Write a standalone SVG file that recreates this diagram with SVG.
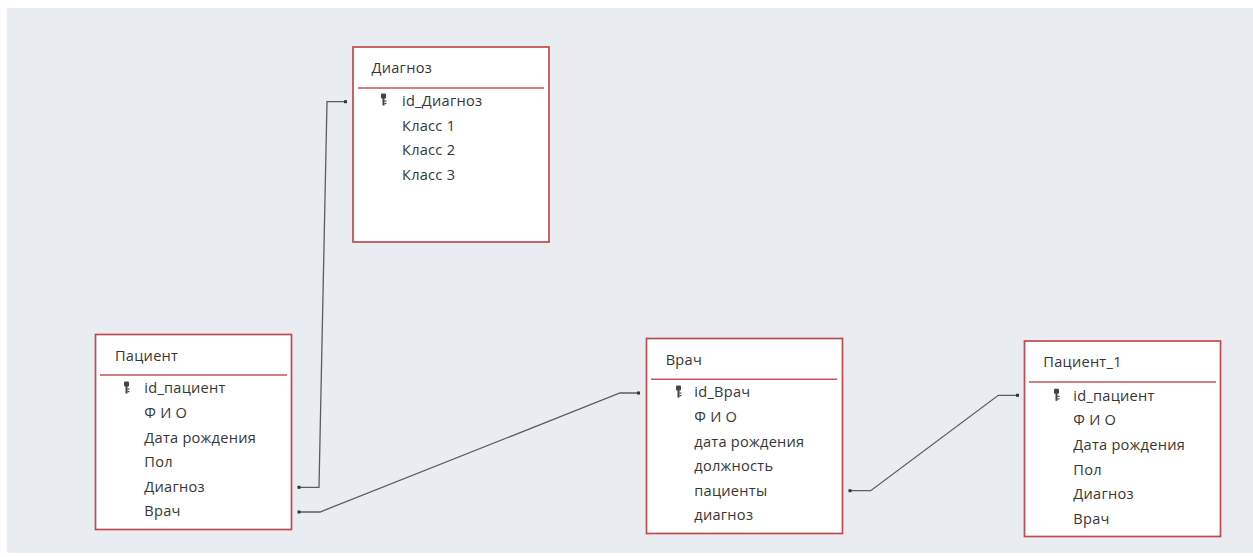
<svg xmlns="http://www.w3.org/2000/svg" width="1253" height="557" viewBox="0 0 1253 557">
<defs>
<style>
.bg{fill:#e9edf1}
.box{fill:#ffffff;stroke:#bf4a50;stroke-width:1.7}
.hdr{stroke:#c0565b;stroke-width:1.5}
.t{font-family:"Open Sans","Noto Sans","Liberation Sans",sans-serif;font-size:14.6px;letter-spacing:0.25px;fill:#363636}
.f{font-family:"Open Sans","Noto Sans","Liberation Sans",sans-serif;font-size:14.6px;letter-spacing:0.25px;fill:#363636}
.c{fill:none;stroke:#5c5c5c;stroke-width:1.3}
.d{fill:#333333}
.k{fill:#444444}
</style>
<g id="key">
<rect x="0" y="0" width="5" height="5" rx="1"/>
<rect x="1.5" y="4" width="2" height="8"/>
<rect x="3.5" y="7" width="2" height="1.2"/>
<rect x="3.5" y="9.5" width="2" height="1.2"/>
</g>
</defs>
<rect class="bg" x="7" y="8" width="1246" height="545"/>
<g id="connectors">
<polyline class="c" points="299,487.3 319,487.3 327,101.7 345,101.7"/>
<rect class="d" x="297.5" y="485.8" width="3" height="3"/>
<rect class="d" x="344" y="100.2" width="3" height="3"/>
<polyline class="c" points="299,512 320,512 620,393 638,393"/>
<rect class="d" x="297.5" y="510.5" width="3" height="3"/>
<rect class="d" x="637" y="391.5" width="3" height="3"/>
<polyline class="c" points="850,490.7 870.7,490.7 998.3,395.3 1017,395.3"/>
<rect class="d" x="848.5" y="489.2" width="3" height="3"/>
<rect class="d" x="1016" y="393.8" width="3" height="3"/>
</g>
<g id="node-diagnoz">
<rect class="box" x="353" y="47" width="196" height="195"/>
<line class="hdr" x1="358" y1="88" x2="544" y2="88"/>
<text class="t" x="371.5" y="73">Диагноз</text>
<use href="#key" class="k" x="381" y="93.5"/>
<text class="f" x="402" y="105.7">id_Диагноз</text>
<text class="f" x="402" y="130.5">Класс 1</text>
<text class="f" x="402" y="155">Класс 2</text>
<text class="f" x="402" y="179.7">Класс 3</text>
</g>
<g id="node-pacient">
<rect class="box" x="95.5" y="334.5" width="196" height="195"/>
<line class="hdr" x1="100" y1="375" x2="287" y2="375"/>
<text class="t" x="115" y="360.7">Пациент</text>
<use href="#key" class="k" x="124" y="381.5"/>
<text class="f" x="144.3" y="393.3">id_пациент</text>
<text class="f" x="144.3" y="418">Ф И О</text>
<text class="f" x="144.3" y="442.6">Дата рождения</text>
<text class="f" x="144.3" y="467.2">Пол</text>
<text class="f" x="144.3" y="491.8">Диагноз</text>
<text class="f" x="144.3" y="516.4">Врач</text>
</g>
<g id="node-vrach">
<rect class="box" x="646.5" y="338.5" width="196" height="195"/>
<line class="hdr" x1="651" y1="379.3" x2="837" y2="379.3"/>
<text class="t" x="665.7" y="365">Врач</text>
<use href="#key" class="k" x="676" y="385.5"/>
<text class="f" x="694.3" y="397.3">id_Врач</text>
<text class="f" x="694.3" y="422">Ф И О</text>
<text class="f" x="694.3" y="446.6">дата рождения</text>
<text class="f" x="694.3" y="471.2">должность</text>
<text class="f" x="694.3" y="495.8">пациенты</text>
<text class="f" x="694.3" y="520.4">диагноз</text>
</g>
<g id="node-pacient1">
<rect class="box" x="1024.5" y="341" width="196" height="195.5"/>
<line class="hdr" x1="1029" y1="382" x2="1216" y2="382"/>
<text class="t" x="1043.3" y="367.3">Пациент_1</text>
<use href="#key" class="k" x="1054" y="388.8"/>
<text class="f" x="1073.3" y="400.7">id_пациент</text>
<text class="f" x="1073.3" y="425.3">Ф И О</text>
<text class="f" x="1073.3" y="449.9">Дата рождения</text>
<text class="f" x="1073.3" y="474.5">Пол</text>
<text class="f" x="1073.3" y="499.1">Диагноз</text>
<text class="f" x="1073.3" y="523.7">Врач</text>
</g>
</svg>
